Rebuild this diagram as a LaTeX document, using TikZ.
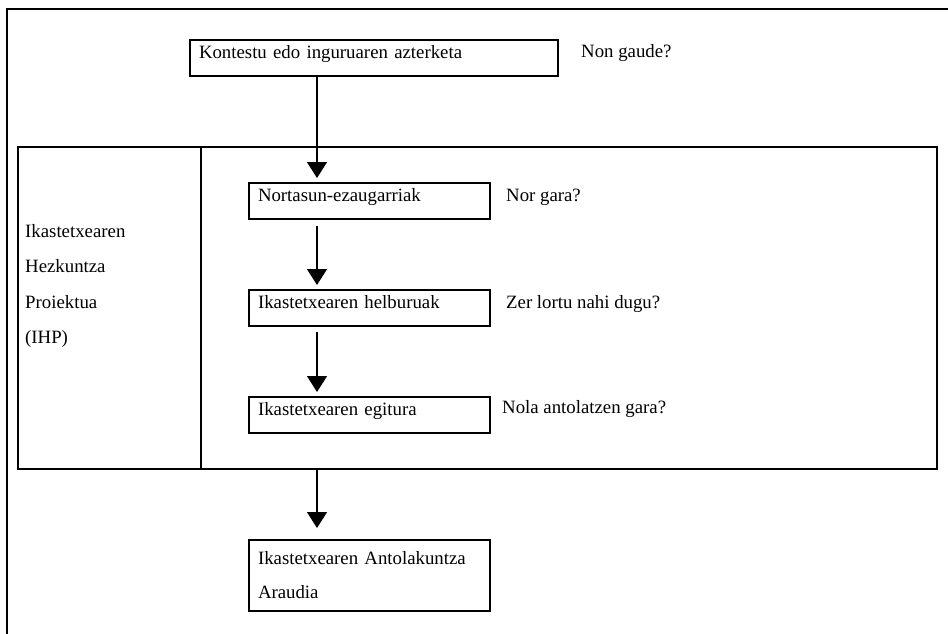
\documentclass[tikz,border=0pt]{standalone}
\usepackage{fontspec}
\setmainfont{Liberation Serif}
\usetikzlibrary{arrows.meta}
\begin{document}
\begin{tikzpicture}[x=1pt,y=-1pt,
  frame/.style={line width=2pt},
  stepbox/.style={draw,line width=2pt,anchor=north west,inner xsep=9pt,inner ysep=0pt,
    align=left,font=\fontsize{18.8}{34}\selectfont},
  onerow/.style={text height=18.5pt,text depth=17.5pt},
  flow/.style={line width=1.2pt,-{Triangle[width=20pt,length=16pt]}},
  note/.style={anchor=base west,inner sep=0pt,font=\fontsize{18.8}{34}\selectfont}]
\useasboundingbox (0,0) rectangle (948,634);

% open page frame: top and left edges only
\draw[frame] (948,9) -| (7,634);

% the school education project block
\node[draw,frame,anchor=north west,minimum width=919pt,minimum height=322pt,inner sep=0pt] (ihp) at (17,146) {};
\coordinate (div) at (201,146);
\draw[frame] (div) -- (div |- ihp.south);
\node[anchor=north west,inner sep=0pt,align=left,font=\fontsize{18.8}{35.5}\selectfont]
  (ihplabel) at (25,224) {Ikastetxearen\\Hezkuntza\\Proiektua\\(IHP)};

% steps
\node[stepbox,onerow,text width=350pt] (ctx) at (189,39) {Kontestu edo inguruaren azterketa};
\node[stepbox,onerow,text width=223pt] (ident) at (248,182) {Nortasun-ezaugarriak};
\node[stepbox,onerow,text width=223pt] (goals) at (248,289) {Ikastetxearen helburuak};
\node[stepbox,onerow,text width=223pt] (struct) at (248,396) {Ikastetxearen egitura};
\node[stepbox,text width=223pt,minimum height=71pt] (rules) at (248,539) {Ikastetxearen Antolakuntza\\Araudia};

% guiding questions
\node[note] (q0) at (581,58) {Non gaude?};
\node[note] (q1) at (506,201) {Nor gara?};
\node[note] (q2) at (506,308) {Zer lortu nahi dugu?};
\node[note] (q3) at (502,413) {Nola antolatzen gara?};

% flow arrows along a common vertical axis
\coordinate (axis) at (317,0);
\draw[flow,shorten >=4pt] (ctx.south -| axis) -- (ident.north -| axis);
\draw[flow,shorten <=6pt,shorten >=4pt] (ident.south -| axis) -- (goals.north -| axis);
\draw[flow,shorten <=5pt,shorten >=4pt] (goals.south -| axis) -- (struct.north -| axis);
\draw[flow,shorten >=11pt] (ihp.south -| axis) -- (rules.north -| axis);
\end{tikzpicture}
\end{document}
